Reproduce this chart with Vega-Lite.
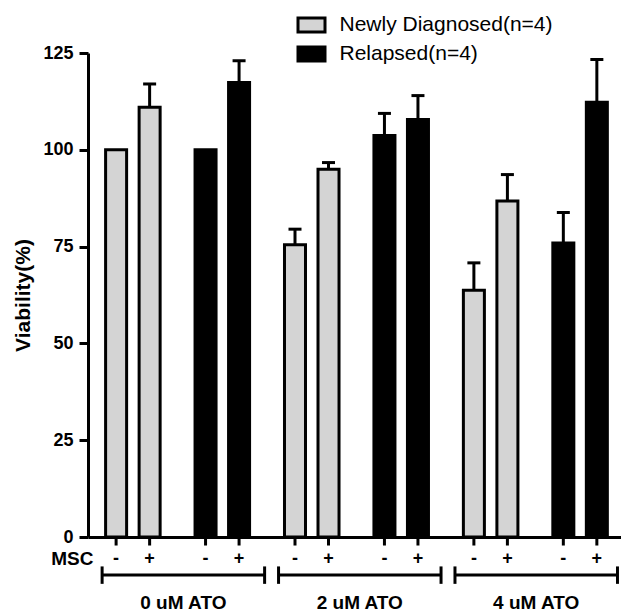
{
  "$schema": "https://vega.github.io/schema/vega-lite/v6.json",
  "width": 533,
  "height": 484,
  "autosize": {"type": "none"},
  "padding": {"left": 88, "top": 53, "right": 0, "bottom": 75},
  "background": "white",
  "config": {
    "font": "Liberation Sans",
    "view": {"stroke": null},
    "axis": {"grid": false, "domainColor": "black", "tickColor": "black", "labelColor": "black", "titleColor": "black"}
  },
  "datasets": {
    "bars": [
      {"pair": "0-ND", "ato": "0 uM ATO", "group": "Newly Diagnosed(n=4)", "msc": "-", "value": 100, "upper": null},
      {"pair": "0-ND", "ato": "0 uM ATO", "group": "Newly Diagnosed(n=4)", "msc": "+", "value": 111.0, "upper": 117.0},
      {"pair": "0-R", "ato": "0 uM ATO", "group": "Relapsed(n=4)", "msc": "-", "value": 100, "upper": null},
      {"pair": "0-R", "ato": "0 uM ATO", "group": "Relapsed(n=4)", "msc": "+", "value": 117.4, "upper": 123.0},
      {"pair": "2-ND", "ato": "2 uM ATO", "group": "Newly Diagnosed(n=4)", "msc": "-", "value": 75.5, "upper": 79.5},
      {"pair": "2-ND", "ato": "2 uM ATO", "group": "Newly Diagnosed(n=4)", "msc": "+", "value": 95.0, "upper": 96.7},
      {"pair": "2-R", "ato": "2 uM ATO", "group": "Relapsed(n=4)", "msc": "-", "value": 103.7, "upper": 109.4},
      {"pair": "2-R", "ato": "2 uM ATO", "group": "Relapsed(n=4)", "msc": "+", "value": 107.8, "upper": 114.0},
      {"pair": "4-ND", "ato": "4 uM ATO", "group": "Newly Diagnosed(n=4)", "msc": "-", "value": 63.7, "upper": 70.8},
      {"pair": "4-ND", "ato": "4 uM ATO", "group": "Newly Diagnosed(n=4)", "msc": "+", "value": 86.8, "upper": 93.6},
      {"pair": "4-R", "ato": "4 uM ATO", "group": "Relapsed(n=4)", "msc": "-", "value": 75.9, "upper": 83.8},
      {"pair": "4-R", "ato": "4 uM ATO", "group": "Relapsed(n=4)", "msc": "+", "value": 112.3, "upper": 123.3}
    ],
    "groups": [
      {"ato": "0 uM ATO"},
      {"ato": "2 uM ATO"},
      {"ato": "4 uM ATO"}
    ]
  },
  "layer": [
    {
      "data": {"name": "bars"},
      "encoding": {
        "x": {
          "field": "pair",
          "type": "nominal",
          "scale": {"domain": ["0-ND", "0-R", "2-ND", "2-R", "4-ND", "4-R"], "paddingInner": 0.357, "paddingOuter": 0.158, "align": 0.57},
          "axis": {
            "domain": true, "domainWidth": 3, "ticks": false, "labels": false,
            "title": "MSC", "titleX": 5, "titleY": 21, "titleAlign": "right", "titleBaseline": "middle",
            "titleAngle": 0, "titleFontSize": 19, "titleFontWeight": "bold", "titleFont": "Liberation Sans"
          }
        },
        "xOffset": {"field": "msc", "type": "nominal", "scale": {"domain": ["-", "+"], "paddingInner": 0.373, "paddingOuter": 0.0445}}
      },
      "layer": [
        {
          "mark": {"type": "rule", "strokeWidth": 3, "color": "black"},
          "encoding": {
            "y": {"datum": 0, "type": "quantitative", "scale": {"domain": [0, 125]}},
            "y2": {"datum": -2.2}
          }
        },
        {
          "mark": {"type": "bar", "stroke": "black", "strokeWidth": 3},
          "encoding": {
            "y": {
              "field": "value", "type": "quantitative",
              "scale": {"domain": [0, 125]},
              "title": "Viability(%)",
              "axis": {
                "values": [0, 25, 50, 75, 100, 125],
                "domainWidth": 3, "tickWidth": 3, "tickSize": 9,
                "labelFontSize": 18, "labelFontWeight": "bold", "labelPadding": 6, "labelFont": "Liberation Sans",
                "titleFontSize": 21, "titleFontWeight": "bold", "titlePadding": 9, "titleFont": "Liberation Sans"
              }
            },
            "color": {
              "field": "group", "type": "nominal",
              "scale": {"domain": ["Newly Diagnosed(n=4)", "Relapsed(n=4)"], "range": ["#d4d4d4", "#000000"]},
              "legend": {
                "orient": "none", "legendX": 208.5, "legendY": -43, "title": null,
                "symbolType": "M-1,-0.52H1V0.52H-1Z", "symbolSize": 729,
                "symbolStrokeColor": "black", "symbolStrokeWidth": 3, "symbolOpacity": 1,
                "labelFontSize": 21, "labelFont": "Liberation Sans", "labelColor": "black", "labelLimit": 400,
                "labelOffset": 13, "rowPadding": -1, "padding": 0
              }
            }
          }
        },
        {
          "transform": [{"filter": "datum.upper != null"}],
          "mark": {"type": "rule", "strokeWidth": 3, "color": "black"},
          "encoding": {
            "y": {"field": "value", "type": "quantitative", "scale": {"domain": [0, 125]}},
            "y2": {"field": "upper"}
          }
        },
        {
          "transform": [{"filter": "datum.upper != null"}],
          "mark": {"type": "tick", "orient": "horizontal", "size": 13, "thickness": 3, "color": "black", "opacity": 1},
          "encoding": {
            "y": {"field": "upper", "type": "quantitative", "scale": {"domain": [0, 125]}}
          }
        },
        {
          "mark": {"type": "text", "dy": 22, "baseline": "middle", "align": "center", "fontSize": 18, "fontWeight": "bold", "font": "Liberation Sans", "color": "black"},
          "encoding": {
            "y": {"datum": 0, "type": "quantitative", "scale": {"domain": [0, 125]}},
            "text": {"field": "msc"}
          }
        }
      ]
    },
    {
      "data": {"name": "groups"},
      "encoding": {
        "x": {
          "field": "ato", "type": "nominal",
          "scale": {"domain": ["0 uM ATO", "2 uM ATO", "4 uM ATO"], "paddingInner": 0.079, "paddingOuter": 0.05, "align": 0.8},
          "axis": null
        }
      },
      "layer": [
        {
          "mark": {"type": "rule", "strokeWidth": 3, "color": "black"},
          "encoding": {
            "x": {"field": "ato", "type": "nominal", "bandPosition": 0},
            "x2": {"field": "ato", "bandPosition": 1},
            "y": {"datum": -9.8, "type": "quantitative", "scale": {"domain": [0, 125]}}
          }
        },
        {
          "mark": {"type": "rule", "strokeWidth": 3, "color": "black"},
          "encoding": {
            "x": {"field": "ato", "type": "nominal", "bandPosition": 0},
            "y": {"datum": -7.6, "type": "quantitative", "scale": {"domain": [0, 125]}},
            "y2": {"datum": -12.1}
          }
        },
        {
          "mark": {"type": "rule", "strokeWidth": 3, "color": "black"},
          "encoding": {
            "x": {"field": "ato", "type": "nominal", "bandPosition": 1},
            "y": {"datum": -7.6, "type": "quantitative", "scale": {"domain": [0, 125]}},
            "y2": {"datum": -12.1}
          }
        },
        {
          "mark": {"type": "text", "baseline": "middle", "align": "center", "fontSize": 19, "fontWeight": "bold", "font": "Liberation Sans", "color": "black"},
          "encoding": {
            "y": {"datum": -17, "type": "quantitative", "scale": {"domain": [0, 125]}},
            "text": {"field": "ato"}
          }
        }
      ]
    }
  ],
  "resolve": {"scale": {"x": "independent"}, "axis": {"x": "independent"}}
}
